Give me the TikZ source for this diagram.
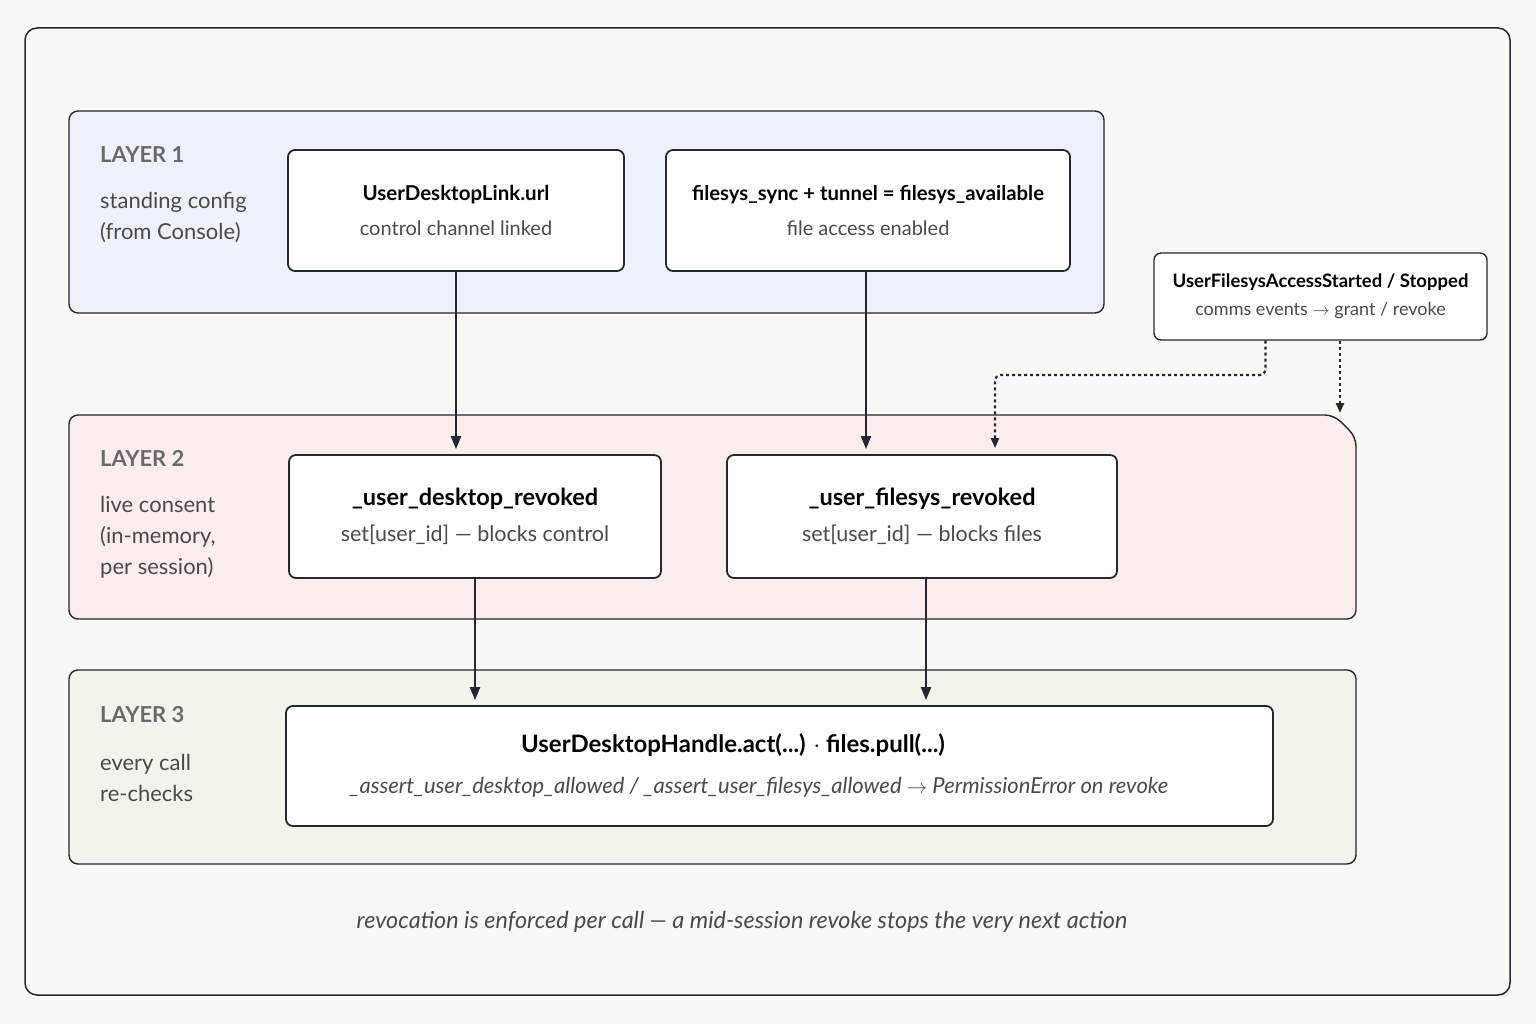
\documentclass[tikz,border=0pt]{standalone}
\usepackage{fontspec}
\setmainfont{Lato}
\usepackage{xcolor}
\usetikzlibrary{arrows.meta,positioning}
\definecolor{paper}{HTML}{FAF8F4}
\definecolor{ink}{HTML}{23272F}
\definecolor{muted}{HTML}{6A6A6A}
\definecolor{soft}{HTML}{4A4A4A}
\definecolor{bluefill}{HTML}{EDF2FA}
\definecolor{pinkfill}{HTML}{FBEDEC}
\definecolor{greenfill}{HTML}{EFF5EA}

\begin{document}
\begin{tikzpicture}[x=1pt, y=-1pt,
  box/.style={draw=ink, line width=1.8pt, rounded corners=7pt, fill=white, align=center, inner sep=0pt},
  layer/.style={draw=ink, line width=1.4pt, rounded corners=9pt, inner sep=0pt},
  tag/.style={anchor=west, inner sep=0pt, text=muted, font=\fontsize{22}{26}\selectfont\bfseries},
  side/.style={anchor=north west, inner sep=0pt, align=left, text=soft, font=\fontsize{22}{31}\selectfont},
  arr/.style={-{Triangle[length=13pt, width=10pt]}, line width=2.2pt, draw=ink},
  evarr/.style={-{Triangle[length=10pt, width=8pt]}, line width=2.2pt, draw=ink, dash pattern=on 3pt off 3pt}]
  \useasboundingbox (0,0) rectangle (1536,1024);
  \fill[paper] (0,0) rectangle (1536,1024);
  \node[draw=ink, line width=1.5pt, rounded corners=12pt, minimum width=1485pt, minimum height=967pt, inner sep=0pt] (frame) at (767.5,511.5) {};
  % layers
  \node[layer, fill=bluefill, minimum width=1035pt, minimum height=202pt] (lay1) at (586.5,212) {};
  \draw[layer, fill=pinkfill] (69,415) -- (1334,415) -- (1356,437) -- (1356,619) -- (69,619) -- cycle;
  \node[layer, fill=greenfill, minimum width=1287pt, minimum height=194pt] (lay3) at (712.5,767) {};
  % layer captions
  \node[tag] (tag1) at (100,155) {LAYER 1};
  \node[side] (cap1) at (100,192) {standing config\\(from Console)};
  \node[tag] (tag2) at (100,458) {LAYER 2};
  \node[side] (cap2) at (100,496) {live consent\\(in-memory,\\per session)};
  \node[tag] (tag3) at (100,715) {LAYER 3};
  \node[side] (cap3) at (100,754) {every call\\re-checks};
  % row 1: standing config
  \node[box, minimum width=336pt, minimum height=121pt] (link) at (456,210.5)
    {{\fontsize{20.5}{25}\selectfont\bfseries UserDesktopLink.url}\\[15pt]{\fontsize{20}{24}\selectfont\color{soft} control channel linked}};
  \node[box, minimum width=404pt, minimum height=121pt] (avail) at (868,210.5)
    {{\fontsize{20.3}{25}\selectfont\bfseries filesys\_sync + tunnel = filesys\_available}\\[15pt]{\fontsize{20}{24}\selectfont\color{soft} file access enabled}};
  \node[box, line width=1.4pt, minimum width=333pt, minimum height=87pt] (evt) at (1320.5,296.5)
    {{\fontsize{18.5}{22}\selectfont\bfseries UserFilesysAccessStarted / Stopped}\\[11pt]{\fontsize{18}{21}\selectfont\color{soft} comms events $\rightarrow$ grant / revoke}};
  % row 2: live consent
  \node[box, minimum width=372pt, minimum height=123pt] (dskrev) at (475,516.5)
    {{\fontsize{23.5}{28}\selectfont\bfseries \_user\_desktop\_revoked}\\[15pt]{\fontsize{21.5}{25}\selectfont\color{soft} set[user\_id] --- blocks control}};
  \node[box, minimum width=390pt, minimum height=123pt] (fsrev) at (922,516.5)
    {{\fontsize{23.5}{28}\selectfont\bfseries \_user\_filesys\_revoked}\\[15pt]{\fontsize{21.5}{25}\selectfont\color{soft} set[user\_id] --- blocks files}};
  % row 3: every call
  \node[box, minimum width=987pt, minimum height=120pt] (handle) at (779.5,766) {};
  \node[font=\fontsize{24}{28}\selectfont\bfseries, inner sep=0pt] (call) at (733,745)
    {UserDesktopHandle.act(...) $\cdot$ files.pull(...)};
  \node[font=\fontsize{22}{26}\selectfont\itshape, text=soft, inner sep=0pt] (guard) at (759,787)
    {\_assert\_user\_desktop\_allowed / \_assert\_user\_filesys\_allowed $\rightarrow$ PermissionError on revoke};
  \node[font=\fontsize{23.4}{28}\selectfont\itshape, text=soft] (foot) at (742,922)
    {revocation is enforced per call --- a mid-session revoke stops the very next action};
  % flow
  \draw[arr, shorten >=5pt] (link) -- (link |- dskrev.north);
  \draw[arr, shorten >=5pt] ([xshift=-2pt]avail.south) -- ([xshift=-2pt]avail.south |- fsrev.north);
  \draw[arr, shorten >=5pt] (dskrev) -- (dskrev |- handle.north);
  \draw[arr, shorten >=5pt] ([xshift=4pt]fsrev.south) -- ([xshift=4pt]fsrev.south |- handle.north);
  % comms events
  \coordinate (bend) at (995,375);
  \coordinate (notch) at (1340,415);
  \draw[evarr, rounded corners=6pt, shorten >=6pt] ([xshift=-55pt]evt.south) |- (bend) -- (bend |- fsrev.north);
  \draw[evarr, shorten >=2pt] (evt.south -| notch) -- (notch);
\end{tikzpicture}
\end{document}
